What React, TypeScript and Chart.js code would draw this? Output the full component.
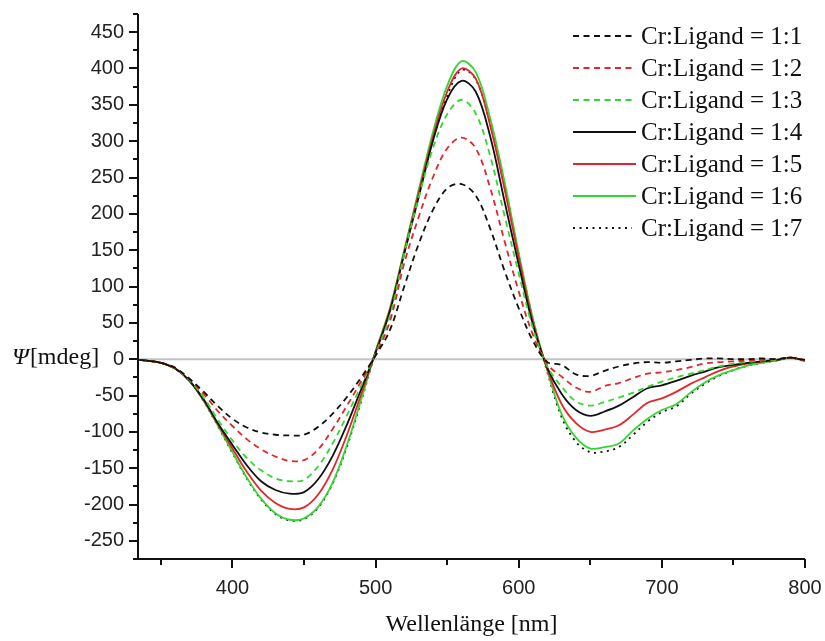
import React, { useEffect, useRef } from 'react';
import { Chart, registerables } from 'chart.js';

Chart.register(...registerables);

const wavelengths = [335, 340, 350, 360, 370, 380, 390, 400, 410, 420, 430, 440, 450, 460, 470, 480, 490, 500, 510, 520, 530, 540, 550, 560, 570, 580, 590, 600, 610, 620, 630, 640, 650, 660, 670, 680, 690, 700, 710, 720, 730, 740, 750, 760, 770, 780, 790, 800];

const ratio11 = [-1, -2, -5, -12, -27, -45, -65, -82, -94, -101, -104, -105, -104, -93, -75, -52, -25, 5, 40, 100, 158, 205, 235, 241, 225, 180, 122, 70, 25, -4, -8, -21, -23, -16, -10, -6, -4, -5, -3, -1, 1, 1, 0, 0, 1, 0, 2, -1];
const ratio12 = [-1, -2, -5, -12, -28, -48, -72, -92, -110, -124, -134, -140, -139, -124, -96, -64, -30, 6, 52, 132, 195, 250, 290, 305, 290, 236, 163, 93, 33, -7, -24, -39, -45, -37, -33, -26, -20, -18, -15, -11, -6, -4, -3, -2, -1, 0, 2, -2];
const ratio13 = [-1, -2, -5, -13, -29, -53, -84, -112, -136, -153, -164, -168, -166, -147, -116, -77, -36, 8, 60, 145, 222, 290, 337, 357, 338, 280, 198, 118, 42, -10, -38, -58, -64, -59, -53, -46, -38, -31, -25, -20, -15, -10, -6, -4, -2, -1, 2, -2];
const ratio14 = [-1, -2, -5, -13, -30, -56, -89, -118, -146, -168, -180, -185, -183, -165, -133, -90, -41, 9, 66, 145, 222, 300, 358, 383, 368, 307, 218, 130, 47, -12, -48, -70, -78, -72, -64, -52, -40, -36, -30, -23, -17, -11, -8, -5, -3, -1, 2, -2];
const ratio15 = [-1, -2, -5, -13, -30, -57, -90, -123, -155, -181, -198, -206, -204, -186, -152, -104, -48, 10, 68, 148, 228, 305, 368, 400, 386, 322, 235, 140, 51, -14, -62, -88, -100, -97, -91, -76, -60, -54, -45, -34, -25, -16, -10, -6, -3, -1, 2, -2];
const ratio16 = [-1, -2, -5, -13, -30, -58, -92, -128, -163, -192, -212, -221, -219, -203, -170, -118, -55, 11, 70, 150, 232, 312, 376, 410, 395, 332, 245, 146, 55, -16, -76, -108, -123, -121, -116, -98, -82, -70, -62, -46, -32, -22, -15, -9, -5, -2, 2, -2];
const ratio17 = [-1, -2, -5, -13, -30, -58, -93, -129, -164, -193, -213, -222, -220, -204, -171, -120, -57, 10, 67, 146, 226, 302, 362, 398, 385, 324, 240, 144, 54, -18, -80, -114, -128, -127, -121, -104, -86, -73, -65, -48, -34, -23, -15, -9, -5, -2, 2, -3];

const seriesLabels = ['Cr:Ligand = 1:1', 'Cr:Ligand = 1:2', 'Cr:Ligand = 1:3', 'Cr:Ligand = 1:4', 'Cr:Ligand = 1:5', 'Cr:Ligand = 1:6', 'Cr:Ligand = 1:7'];
const seriesValues = [ratio11, ratio12, ratio13, ratio14, ratio15, ratio16, ratio17];

const xMajorTicks = [400, 500, 600, 700, 800];
const xMinorTicks = [350, 450, 550, 650, 750];
const yMajorTicks = [-250, -200, -150, -100, -50, 0, 50, 100, 150, 200, 250, 300, 350, 400, 450];
const yMinorTicks = [-275, -225, -175, -125, -75, -25, 25, 75, 125, 175, 225, 275, 325, 375, 425, 475];

const yAxisTitleSymbol = 'Ψ';
const yAxisTitleUnit = '[mdeg]';
const xAxisTitle = 'Wellenlänge [nm]';

const BLACK = '#111111';
const RED = '#e3262b';
const GREEN = '#33d633';
const DASH = [6, 4.5];
const DOT = [2, 4.5];
const NONE: number[] = [];

const seriesColors = [BLACK, RED, GREEN, BLACK, RED, GREEN, BLACK];
const seriesDashes = [DASH, DASH, DASH, NONE, NONE, NONE, DOT];

const SERIF = '"Liberation Serif", "Times New Roman", Times, serif';
const SANS = '"Liberation Sans", Arial, Helvetica, sans-serif';

const decorPlugin = {
  id: 'decor',
  beforeDatasetsDraw(chart: any) {
    const { ctx, chartArea, scales } = chart;
    const y0 = scales.y.getPixelForValue(0);
    ctx.save();
    ctx.strokeStyle = '#c3c3c3';
    ctx.lineWidth = 2;
    ctx.beginPath();
    ctx.moveTo(chartArea.left, y0);
    ctx.lineTo(chartArea.right, y0);
    ctx.stroke();
    ctx.restore();
  },
  afterDraw(chart: any) {
    const { ctx, chartArea, scales } = chart;
    const { left, right, top, bottom } = chartArea;
    ctx.save();
    ctx.strokeStyle = BLACK;
    ctx.lineWidth = 2;
    ctx.lineCap = 'butt';
    ctx.beginPath();
    ctx.moveTo(left, top);
    ctx.lineTo(left, bottom);
    ctx.lineTo(right, bottom);
    ctx.stroke();
    ctx.beginPath();
    yMajorTicks.forEach((v) => {
      const p = Math.round(scales.y.getPixelForValue(v));
      ctx.moveTo(left - 9, p);
      ctx.lineTo(left, p);
    });
    yMinorTicks.forEach((v) => {
      const p = Math.round(scales.y.getPixelForValue(v));
      ctx.moveTo(left - 5, p);
      ctx.lineTo(left, p);
    });
    xMajorTicks.forEach((v) => {
      const p = Math.round(scales.x.getPixelForValue(v));
      ctx.moveTo(p, bottom);
      ctx.lineTo(p, bottom + 9);
    });
    xMinorTicks.forEach((v) => {
      const p = Math.round(scales.x.getPixelForValue(v));
      ctx.moveTo(p, bottom);
      ctx.lineTo(p, bottom + 6);
    });
    ctx.stroke();

    const y0 = scales.y.getPixelForValue(0);
    ctx.fillStyle = BLACK;
    ctx.textBaseline = 'middle';
    ctx.textAlign = 'left';
    ctx.font = `italic 24px ${SERIF}`;
    ctx.fillText(yAxisTitleSymbol, 12, y0 - 1);
    const w = ctx.measureText(yAxisTitleSymbol).width;
    ctx.font = `24px ${SERIF}`;
    ctx.fillText(yAxisTitleUnit, 12 + w + 1, y0 - 1);

    const rowTop = 36;
    const rowGap = 32;
    ctx.font = `25px ${SERIF}`;
    chart.data.datasets.forEach((ds: any, i: number) => {
      const cy = rowTop + i * rowGap;
      ctx.save();
      ctx.strokeStyle = ds.borderColor;
      ctx.lineWidth = ds.borderWidth;
      ctx.setLineDash(ds.borderDash || []);
      ctx.beginPath();
      ctx.moveTo(573, cy);
      ctx.lineTo(ds.borderDash && ds.borderDash.length ? 632 : 636, cy);
      ctx.stroke();
      ctx.restore();
      ctx.fillStyle = BLACK;
      ctx.fillText(ds.label, 641, cy + 1);
    });
    ctx.restore();
  },
};

export default function App() {
  const canvasRef = useRef<HTMLCanvasElement | null>(null);

  useEffect(() => {
    if (!canvasRef.current) return;
    const datasets = seriesLabels.map((label, i) => ({
      label,
      data: wavelengths.map((x, j) => ({ x, y: seriesValues[i][j] })),
      borderColor: seriesColors[i],
      backgroundColor: seriesColors[i],
      borderWidth: 1.8,
      borderDash: seriesDashes[i],
      pointRadius: 0,
      tension: 0.35,
      fill: false,
    }));

    const chart = new Chart(canvasRef.current, {
      type: 'line',
      data: { datasets },
      plugins: [decorPlugin],
      options: {
        animation: false,
        responsive: true,
        maintainAspectRatio: false,
        layout: { padding: { left: 0, top: 14, right: 20, bottom: 0 } },
        plugins: {
          legend: { display: false },
          tooltip: { enabled: false },
        },
        scales: {
          x: {
            type: 'linear',
            min: 334,
            max: 800,
            grid: { display: false, drawTicks: false },
            border: { display: false },
            afterBuildTicks: (scale: any) => {
              scale.ticks = xMajorTicks.map((v) => ({ value: v }));
            },
            afterFit: (scale: any) => {
              scale.height = 82;
              scale.paddingLeft = 0;
              scale.paddingRight = 0;
            },
            ticks: {
              autoSkip: false,
              maxRotation: 0,
              padding: 17,
              color: '#222',
              font: { family: SANS, size: 20 },
              callback: (v: any) => String(v),
            },
            title: {
              display: true,
              text: xAxisTitle,
              color: BLACK,
              font: { family: SERIF, size: 24, lineHeight: 1.2 },
              padding: { top: 0, bottom: 2 },
            },
          },
          y: {
            type: 'linear',
            min: -275,
            max: 475,
            grid: { display: false, drawTicks: false },
            border: { display: false },
            afterBuildTicks: (scale: any) => {
              scale.ticks = yMajorTicks.map((v) => ({ value: v }));
            },
            afterFit: (scale: any) => {
              scale.width = 138;
              scale.paddingTop = 0;
              scale.paddingBottom = 0;
            },
            ticks: {
              autoSkip: false,
              padding: 14,
              color: '#222',
              font: { family: SANS, size: 20 },
              callback: (v: any) => String(v),
            },
          },
        },
      },
    });
    return () => chart.destroy();
  }, []);

  return (
    <div style={{ position: 'fixed', left: 0, top: 0, width: 825, height: 641, background: '#fff' }}>
      <canvas ref={canvasRef} />
    </div>
  );
}
